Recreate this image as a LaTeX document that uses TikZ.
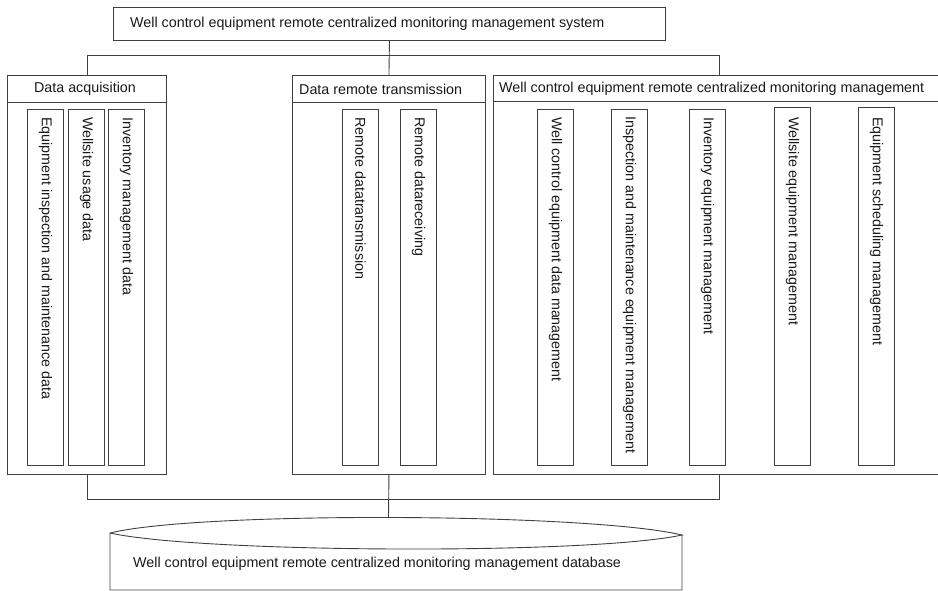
\documentclass[tikz,border=0pt]{standalone}
\usepackage{fontspec}
\setmainfont{Liberation Sans}
\begin{document}
\begin{tikzpicture}[x=1pt,y=-1pt,
  line/.style={draw=black!75, line width=0.9pt},
  box/.style={line, rectangle, inner sep=0pt, anchor=north west},
  ibox/.style={box, minimum width=36pt, minimum height=356pt},
  lbl/.style={font=\fontsize{14.3pt}{17pt}\selectfont, text=black!90, inner sep=0pt},
  vlbl/.style={lbl, rotate=-90, anchor=west},
]
\useasboundingbox (0,0) rectangle (938,591);
\clip (0,0) rectangle (938,591);

% top system box
\node[box, minimum width=552pt, minimum height=33pt] (sys) at (113,7) {};
\node[lbl, anchor=west] (systxt) at (130,23.5) {Well control equipment remote centralized monitoring management system};

% data acquisition
\node[box, minimum width=159pt, minimum height=399pt] (acq) at (7,75) {};
\draw[line] ([yshift=-27pt]acq.north west) -- ([yshift=-27pt]acq.north east);
\node[lbl] (acqtxt) at (85,89) {Data acquisition};

% data remote transmission
\node[box, minimum width=193pt, minimum height=399pt] (mid) at (292,75) {};
\draw[line] ([yshift=-27pt]mid.north west) -- ([yshift=-27pt]mid.north east);
\node[lbl, anchor=west] (midtxt) at (299,89) {Data remote transmission};

% monitoring management
\node[box, minimum width=452pt, minimum height=399pt] (mon) at (493,75) {};
\draw[line] ([yshift=-26pt]mon.north west) -- ([yshift=-26pt]mon.north east);
\node[lbl, anchor=west] (montxt) at (499,88.5) {Well control equipment remote centralized monitoring management};

% inner boxes: acquisition
\node[ibox] (a1) at (27,109) {};
\node[ibox] (a2) at (68,109) {};
\node[ibox] (a3) at (108,109) {};
\node[vlbl] (a1t) at ([yshift=-8pt]a1.north) {Equipment inspection and maintenance data};
\node[vlbl] (a2t) at ([yshift=-8pt]a2.north) {Wellsite usage data};
\node[vlbl] (a3t) at ([yshift=-8pt]a3.north) {Inventory management data};

% inner boxes: transmission
\node[ibox] (m1) at (342,109) {};
\node[ibox] (m2) at (400,109) {};
\node[vlbl] (m1t) at ([yshift=-8pt]m1.north) {Remote datatransmission};
\node[vlbl] (m2t) at ([yshift=-8pt]m2.north) {Remote datareceiving};

% inner boxes: management
\node[ibox] (r1) at (537,109) {};
\node[ibox] (r2) at (611,109) {};
\node[ibox] (r3) at (689,109) {};
\node[ibox, minimum height=358pt] (r4) at (774,107) {};
\node[ibox, minimum height=358pt] (r5) at (858,107) {};
\node[vlbl] (r1t) at ([yshift=-8pt]r1.north) {Well control equipment data management};
\node[vlbl] (r2t) at ([yshift=-7pt]r2.north) {Inspection and maintenance equipment management};
\node[vlbl] (r3t) at ([yshift=-8pt]r3.north) {Inventory equipment management};
\node[vlbl] (r4t) at ([yshift=-10pt]r4.north) {Wellsite equipment management};
\node[vlbl] (r5t) at ([yshift=-10pt]r5.north) {Equipment scheduling management};

% connectors top
\draw[line] (sys.south) -- (mid.north);
\draw[line] (acq.north) -- ++(0,-20) -| (mon.north);

% connectors bottom
\coordinate (dbtop) at (388.5,517);
\draw[line] (acq.south) -- ++(0,25) -| (mon.south);
\draw[line] (mid.south) -- (dbtop);

% database cylinder
\draw[line] (110,533) .. controls (200,511) and (590,513) .. (682,535)
            .. controls (590,555) and (200,553) .. (110,533)
            -- (110,590) -- (682,590) -- (682,535);
\node[lbl, anchor=west] (db) at (133,564) {Well control equipment remote centralized monitoring management database};
\end{tikzpicture}
\end{document}
